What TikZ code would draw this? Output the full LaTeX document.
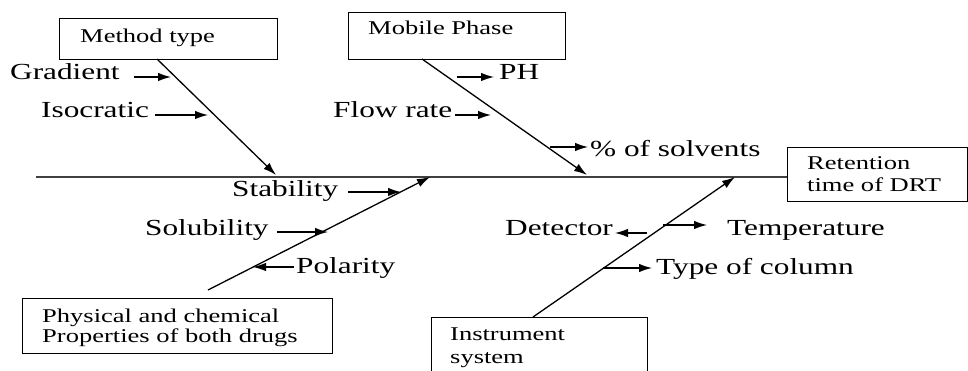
\documentclass[tikz,border=0pt]{standalone}
\usepackage{fontspec}
\setmainfont[FakeStretch=1.36]{Liberation Serif}
\usetikzlibrary{arrows.meta}
\begin{document}
\begin{tikzpicture}[x=1pt,y=-1pt,
  lbl/.style={anchor=base west,inner sep=0pt,font=\fontsize{23}{23}\selectfont},
  blbl/.style={anchor=base west,inner sep=0pt,font=\fontsize{19.5}{19.5}\selectfont},
  boxc/.style={draw,line width=1.2pt,anchor=north west,inner sep=0pt},
  bone/.style={line width=1.3pt,-{Latex[length=13pt,width=8.5pt]}},
  rib/.style={line width=1.3pt,-{Latex[length=13pt,width=8.5pt]}},
  spine/.style={line width=1.6pt,draw=black!75}]
\useasboundingbox (0,0) rectangle (968,371);
% boxes
\node[boxc,minimum width=218pt,minimum height=41pt] (mtbox) at (59,18) {};
\node[boxc,minimum width=217pt,minimum height=47pt] (mpbox) at (348,12) {};
\node[boxc,minimum width=310pt,minimum height=55pt] (pcbox) at (22,298) {};
\node[boxc,minimum width=216pt,minimum height=63pt] (isbox) at (431,317) {};
\node[boxc,minimum width=180pt,minimum height=54pt] (rtbox) at (787,147) {};
% box labels
\node[blbl] (mt) at (80,43) {Method type};
\node[blbl] (mp) at (368,35) {Mobile Phase};
\node[blbl] (pc1) at (42,322) {Physical and chemical};
\node[blbl] (pc2) at (42,342) {Properties of both drugs};
\node[blbl] (is1) at (450,340) {Instrument};
\node[blbl] (is2) at (450,363) {system};
\node[blbl] (rt1) at (807,170) {Retention};
\node[blbl] (rt2) at (807,192) {time of DRT};
% spine
\coordinate (sp0) at (36,177);
\draw[spine] (sp0) -- (rtbox.west |- sp0);
% bones
\coordinate (mt0) at (157,59);  \coordinate (mt1) at (276,175);
\coordinate (mp0) at (422,59);  \coordinate (mp1) at (587,175);
\coordinate (pc0) at (208,290); \coordinate (pc1e) at (430,177);
\coordinate (is0) at (533,317); \coordinate (is1e) at (735,177);
\draw[bone] (mt0) -- (mt1);
\draw[bone] (mp0) -- (mp1);
\draw[bone] (pc0) -- (pc1e);
\draw[bone] (is0) -- (is1e);
% cause labels
\node[lbl] (grad) at (10,80) {Gradient};
\node[lbl] (iso) at (41,118) {Isocratic};
\node[lbl] (ph) at (499,80) {PH};
\node[lbl] (flow) at (333,118) {Flow rate};
\node[lbl] (solv) at (590,157) {\% of solvents};
\node[lbl] (stab) at (232,197) {Stability};
\node[lbl] (solu) at (145,236) {Solubility};
\node[lbl] (pol) at (296,273) {Polarity};
\node[lbl] (det) at (505,236) {Detector};
\node[lbl] (temp) at (727,236) {Temperature};
\node[lbl] (col) at (656,274) {Type of column};
% rib arrows
\coordinate (a1) at (134,77);  \coordinate (b1) at (171,77);
\coordinate (a2) at (155,115); \coordinate (b2) at (208,115);
\coordinate (a3) at (457,77);  \coordinate (b3) at (494,77);
\coordinate (a4) at (455,115); \coordinate (b4) at (491,115);
\coordinate (a5) at (550,147); \coordinate (b5) at (588,147);
\coordinate (a6) at (348,192); \coordinate (b6) at (401,192);
\coordinate (a7) at (277,232); \coordinate (b7) at (328,232);
\coordinate (a8) at (294,267); \coordinate (b8) at (253,267);
\coordinate (a9) at (647,233); \coordinate (b9) at (615,233);
\coordinate (a10) at (663,225); \coordinate (b10) at (707,225);
\coordinate (a11) at (603,268); \coordinate (b11) at (652,268);
\foreach \i in {1,...,11} {\draw[rib] (a\i) -- (b\i);}
\end{tikzpicture}
\end{document}
